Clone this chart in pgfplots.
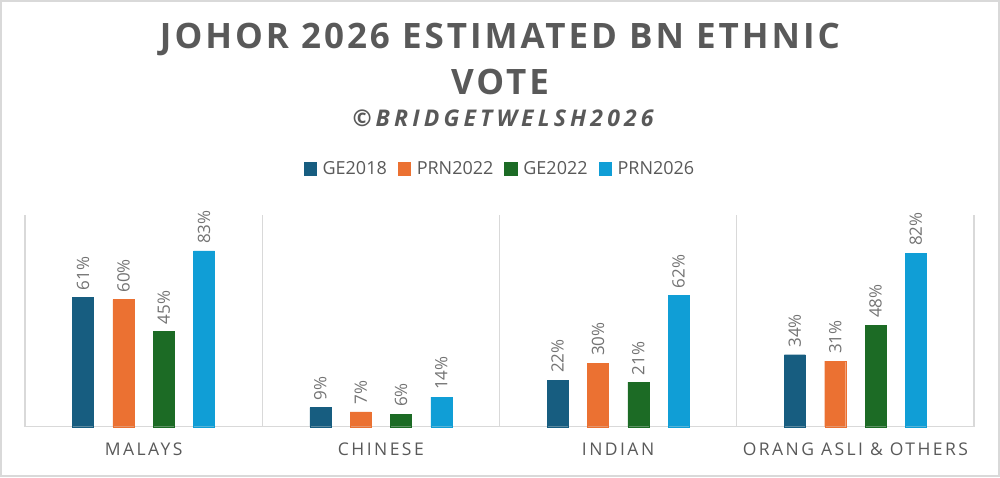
\documentclass[border=0pt]{standalone}
\usepackage{fontspec}
\setmainfont{Open Sans}
\usepackage{pgfplots}
\pgfplotsset{compat=1.18}
\definecolor{cA}{HTML}{175D80}
\definecolor{cB}{HTML}{EB7132}
\definecolor{cC}{HTML}{1C6B25}
\definecolor{cD}{HTML}{109ED6}
\definecolor{txt}{HTML}{595959}
\definecolor{lbl}{HTML}{737373}
\definecolor{gridc}{HTML}{D9D9D9}
\begin{document}
\begin{tikzpicture}
\path[use as bounding box] (0pt,0pt) rectangle (1000pt,477pt);
\draw[gridc, line width=2pt] (1pt,1pt) rectangle (999pt,476pt);
\node[font=\fontsize{35}{40}\selectfont\bfseries\addfontfeature{LetterSpace=8.5}, text=txt, inner sep=0pt] at (500pt,437.5pt) {JOHOR 2026 ESTIMATED BN ETHNIC};
\node[font=\fontsize{35}{40}\selectfont\bfseries\addfontfeature{LetterSpace=8.5}, text=txt, inner sep=0pt] at (500pt,395.5pt) {VOTE};
\node[font=\fontsize{23}{27}\selectfont\bfseries\itshape\addfontfeature{LetterSpace=18}, text=txt, inner sep=0pt] at (503pt,358.5pt) {©BRIDGETWELSH2026};
\begin{axis}[
  at={(143.6pt,50.3pt)}, anchor=origin,
  scale only axis, width=949pt, height=211.7pt,
  xmin=-0.5, xmax=3.5, ymin=0, ymax=100,
  axis y line=none,
  axis x line*=bottom,
  x axis line style={-, draw=gridc, line width=1.2pt},
  xtick={0,1,2,3},
  xticklabels={MALAYS,CHINESE,INDIAN,ORANG ASLI \& OTHERS},
  xticklabel style={font=\fontsize{17.5}{20}\selectfont\addfontfeature{LetterSpace=14}, text=txt, anchor=center, yshift=-23pt},
  major tick length=0pt, minor tick length=0pt,
  minor xtick={-0.5,0.5,1.5,2.5,3.5},
  xminorgrids, minor grid style={draw=gridc, line width=1.2pt},
  ybar=19.3pt, bar width=21pt,
  /pgf/number format/assume math mode=true,
  nodes near coords={\pgfmathprintnumber{\pgfplotspointmeta}\%},
  every node near coord/.append style={rotate=90, anchor=west, font=\fontsize{17}{20}\selectfont, text=lbl, inner xsep=7pt},
  legend style={at={(axis description cs:0.5005,1.218)}, anchor=center, draw=none, fill=none,
    legend columns=-1, font=\fontsize{18}{20}\selectfont, text=txt,
    /tikz/every odd column/.append style={column sep=4pt},
    /tikz/every even column/.append style={column sep=9pt}},
  legend image code/.code={\fill[#1] (0pt,-6.25pt) rectangle (12.5pt,6.25pt);},
  clip=false,
]
\addplot[fill=cA, draw=cA] coordinates {(0,61) (1,9) (2,22) (3,34)};
\addplot[fill=cB, draw=cB] coordinates {(0,60) (1,7) (2,30) (3,31)};
\addplot[fill=cC, draw=cC] coordinates {(0,45) (1,6) (2,21) (3,48)};
\addplot[fill=cD, draw=cD] coordinates {(0,83) (1,14) (2,62) (3,82)};
\legend{GE2018,PRN2022,GE2022,PRN2026}
\end{axis}
\end{tikzpicture}
\end{document}
